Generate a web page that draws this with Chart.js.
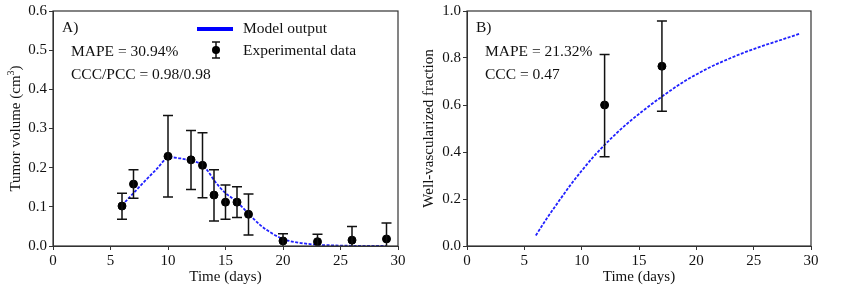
<!DOCTYPE html>
<html>
<head>
<meta charset="utf-8">
<script src="https://cdn.jsdelivr.net/npm/chart.js@4.4.1/dist/chart.umd.min.js"></script>
<style>
  body { margin: 0; background: #fff; }
  #wrap { position: relative; width: 847px; height: 291px; }
  #chartA { position: absolute; left: 0; top: 0; }
  #chartB { position: absolute; left: 420px; top: 0; }
</style>
</head>
<body>
<div id="wrap">
  <canvas id="chartA" width="420" height="291"></canvas>
  <canvas id="chartB" width="427" height="291"></canvas>
</div>
<script>
// Panel A: tumor volume
const days = [6, 7, 10, 12, 13, 14, 15, 16, 17, 20, 23, 26, 29];
const tumorVolume = [0.102, 0.158, 0.229, 0.220, 0.206, 0.130, 0.112, 0.112, 0.081, 0.013, 0.011, 0.015, 0.018];
const tumorLow = [0.068, 0.122, 0.125, 0.144, 0.123, 0.064, 0.068, 0.073, 0.028, -0.005, -0.008, -0.020, -0.022];
const tumorHigh = [0.135, 0.195, 0.333, 0.295, 0.289, 0.195, 0.156, 0.151, 0.133, 0.031, 0.030, 0.050, 0.059];
const modelDaysA = [6, 7, 8, 9, 10, 10.5, 11, 12, 13, 13.5, 14, 14.5, 15, 15.5, 16, 16.5, 17, 18, 19, 20, 21, 22, 23, 24, 25, 26, 27, 28, 29];
const modelVolume = [0.104, 0.135, 0.166, 0.196, 0.225, 0.226, 0.224, 0.218, 0.207, 0.190, 0.168, 0.150, 0.135, 0.124, 0.112, 0.098, 0.083, 0.054, 0.033, 0.018, 0.010, 0.006, 0.003, 0.002, 0.001, 0.0005, 0.0002, 0.0001, 0];

// Panel B: well-vascularized fraction
const vascDays = [12, 17];
const vascFraction = [0.600, 0.765];
const vascLow = [0.380, 0.573];
const vascHigh = [0.815, 0.957];
const modelDaysB = [6, 7, 8, 9, 10, 11, 12, 13, 14, 15, 16, 17, 18, 19, 20, 21, 22, 23, 24, 25, 26, 27, 28, 29];
const modelVasc = [0.045, 0.120, 0.190, 0.258, 0.320, 0.378, 0.430, 0.478, 0.522, 0.562, 0.600, 0.636, 0.670, 0.702, 0.730, 0.756, 0.779, 0.800, 0.820, 0.838, 0.855, 0.871, 0.887, 0.903];

const serif = '"Liberation Serif", "Times New Roman", serif';
const axisColor = '#333';
const blue = '#2020ff';

const toXY = (xs, ys) => xs.map((x, i) => ({ x: x, y: ys[i] }));

// error bars, drawn through the chart scales
const errorBarPlugin = {
  id: 'errorBars',
  afterDatasetsDraw(chart, args, opts) {
    const { ctx, chartArea, scales } = chart;
    ctx.save();
    ctx.beginPath();
    ctx.rect(chartArea.left, chartArea.top - 1, chartArea.right - chartArea.left, chartArea.bottom - chartArea.top + 1);
    ctx.clip();
    ctx.strokeStyle = '#111';
    ctx.lineWidth = 1.5;
    opts.xs.forEach((d, i) => {
      const x = scales.x.getPixelForValue(d);
      const y1 = scales.y.getPixelForValue(opts.low[i]);
      const y2 = scales.y.getPixelForValue(opts.high[i]);
      ctx.beginPath();
      ctx.moveTo(x, y1); ctx.lineTo(x, y2);
      ctx.moveTo(x - 5, y1); ctx.lineTo(x + 5, y1);
      ctx.moveTo(x - 5, y2); ctx.lineTo(x + 5, y2);
      ctx.stroke();
    });
    ctx.restore();
  }
};

// frame, axis titles, annotations and legend
const decorPlugin = {
  id: 'decor',
  afterDraw(chart, args, opts) {
    const { ctx, chartArea } = chart;
    ctx.save();
    ctx.strokeStyle = axisColor;
    ctx.lineWidth = 1.2;
    ctx.strokeRect(chartArea.left, chartArea.top, chartArea.right - chartArea.left, chartArea.bottom - chartArea.top);

    ctx.fillStyle = '#111';
    ctx.font = '15px ' + serif;
    ctx.textAlign = 'center';
    ctx.textBaseline = 'middle';
    ctx.fillText('Time (days)', (chartArea.left + chartArea.right) / 2, 277);

    ctx.save();
    ctx.translate(opts.yTitleX, (chartArea.top + chartArea.bottom) / 2);
    ctx.rotate(-Math.PI / 2);
    if (opts.sup) {
      const base = opts.yTitle;
      ctx.font = '15px ' + serif;
      const w1 = ctx.measureText(base).width;
      ctx.font = '10px ' + serif;
      const w2 = ctx.measureText(opts.sup).width;
      ctx.font = '15px ' + serif;
      const w3 = ctx.measureText(')').width;
      const start = -(w1 + w2 + w3) / 2;
      ctx.textAlign = 'left';
      ctx.fillText(base, start, 0);
      ctx.font = '10px ' + serif;
      ctx.fillText(opts.sup, start + w1, -5);
      ctx.font = '15px ' + serif;
      ctx.fillText(')', start + w1 + w2, 0);
    } else {
      ctx.fillText(opts.yTitle, 0, 0);
    }
    ctx.restore();

    ctx.textAlign = 'left';
    ctx.font = '15.5px ' + serif;
    ctx.fillText(opts.label, chartArea.left + 9, 28);
    opts.notes.forEach((t, i) => {
      ctx.fillText(t, chartArea.left + 18, 52 + i * 23);
    });

    if (opts.legend) {
      ctx.strokeStyle = '#0000ff';
      ctx.lineWidth = 4;
      ctx.beginPath();
      ctx.moveTo(197, 29); ctx.lineTo(233, 29);
      ctx.stroke();
      ctx.strokeStyle = '#111';
      ctx.lineWidth = 1.5;
      ctx.beginPath();
      ctx.moveTo(216, 42); ctx.lineTo(216, 58);
      ctx.moveTo(212, 42); ctx.lineTo(220, 42);
      ctx.moveTo(212, 58); ctx.lineTo(220, 58);
      ctx.stroke();
      ctx.fillStyle = '#000';
      ctx.beginPath();
      ctx.arc(216, 50, 4, 0, Math.PI * 2);
      ctx.fill();
      ctx.fillStyle = '#111';
      ctx.fillText('Model output', 243, 29);
      ctx.fillText('Experimental data', 243, 51);
    }
    ctx.restore();
  }
};

const axisOptions = (yMax, yStep, yWidth) => ({
  x: {
    type: 'linear', min: 0, max: 30,
    ticks: { stepSize: 5, color: '#111', font: { family: serif, size: 15 }, padding: 2, maxRotation: 0 },
    grid: { drawOnChartArea: false, tickLength: 4, color: axisColor },
    border: { color: axisColor },
    afterFit: s => { s.height = 45; }
  },
  y: {
    min: 0, max: yMax,
    ticks: { stepSize: yStep, color: '#111', font: { family: serif, size: 15 }, padding: 2, callback: v => Number(v).toFixed(1) },
    grid: { drawOnChartArea: false, tickLength: 4, color: axisColor },
    border: { color: axisColor },
    afterFit: s => { s.width = yWidth; }
  }
});

new Chart(document.getElementById('chartA'), {
  type: 'scatter',
  data: {
    datasets: [
      {
        type: 'line',
        data: toXY(modelDaysA, modelVolume),
        borderColor: blue, borderWidth: 1.8, borderDash: [3, 1.5],
        pointRadius: 0, cubicInterpolationMode: 'monotone', fill: false, order: 2
      },
      {
        data: toXY(days, tumorVolume),
        backgroundColor: '#000', borderColor: '#000', pointRadius: 4, order: 1
      }
    ]
  },
  options: {
    responsive: false, animation: false,
    layout: { padding: { top: 9, right: 22, left: 0, bottom: 0 } },
    plugins: {
      legend: { display: false }, tooltip: { enabled: false },
      errorBars: { xs: days, low: tumorLow, high: tumorHigh },
      decor: {
        yTitle: 'Tumor volume (cm', sup: '3', yTitleX: 16,
        label: 'A)', notes: ['MAPE = 30.94%', 'CCC/PCC = 0.98/0.98'], legend: true
      }
    },
    scales: axisOptions(0.6, 0.1, 53)
  },
  plugins: [errorBarPlugin, decorPlugin]
});

new Chart(document.getElementById('chartB'), {
  type: 'scatter',
  data: {
    datasets: [
      {
        type: 'line',
        data: toXY(modelDaysB, modelVasc),
        borderColor: blue, borderWidth: 1.8, borderDash: [3, 1.5],
        pointRadius: 0, cubicInterpolationMode: 'monotone', fill: false, order: 2
      },
      {
        data: toXY(vascDays, vascFraction),
        backgroundColor: '#000', borderColor: '#000', pointRadius: 4, order: 1
      }
    ]
  },
  options: {
    responsive: false, animation: false,
    layout: { padding: { top: 9, right: 36, left: 0, bottom: 0 } },
    plugins: {
      legend: { display: false }, tooltip: { enabled: false },
      errorBars: { xs: vascDays, low: vascLow, high: vascHigh },
      decor: {
        yTitle: 'Well-vascularized fraction', yTitleX: 9,
        label: 'B)', notes: ['MAPE = 21.32%', 'CCC = 0.47'], legend: false
      }
    },
    scales: axisOptions(1.0, 0.2, 47)
  },
  plugins: [errorBarPlugin, decorPlugin]
});
</script>
</body>
</html>
